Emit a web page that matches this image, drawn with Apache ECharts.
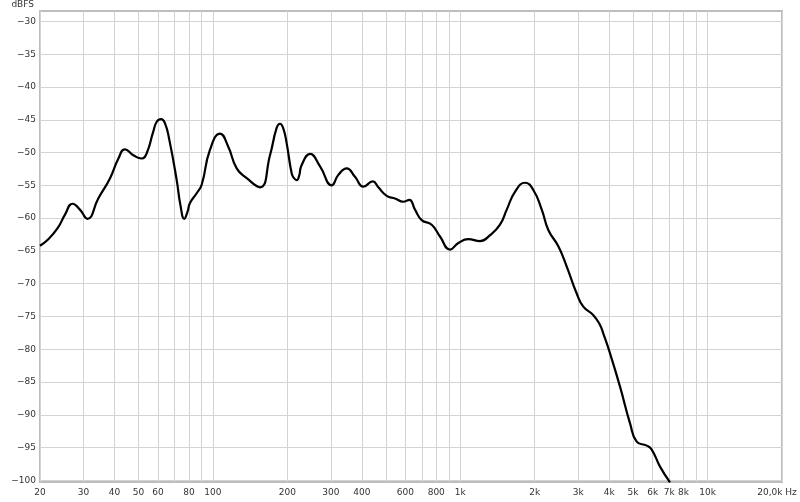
<!DOCTYPE html>
<html><head><meta charset="utf-8">
<script src="https://cdn.jsdelivr.net/npm/echarts@6/dist/echarts.min.js"></script>
<style>html,body{margin:0;padding:0;background:#fff}#c{width:800px;height:502px}</style>
</head><body><div id="c"></div>
<script>
// Frequency response (Hz, dBFS)
const freqHz = [20, 21.5, 23.6, 25.2, 27.1, 29.0, 31.1, 34.4, 38.4, 41.5, 44.1, 47.7, 51.5, 54.0, 57.4, 59.3, 61.7, 64.0, 66.7, 71.4, 74.0, 76.6, 79.0, 80.8, 86.0, 90.1, 97.3, 106.9, 115.4, 124.8, 137.0, 155.1, 170.2, 181.2, 186.8, 192.6, 198.8, 208.3, 212.8, 218.3, 223, 228.6, 247.1, 271.2, 302.4, 321.5, 347.6, 375.5, 405.8, 442.9, 466.7, 504.6, 545, 588.7, 622.6, 656.5, 698.8, 766.8, 828.7, 909.6, 982.5, 1078, 1202, 1320, 1448, 1542, 1665, 1828, 1975, 2136, 2271, 2493, 2696, 2958, 3146, 3454, 3675, 3790, 4032, 4427, 4860, 5171, 5676, 5946, 6424, 7050];
const levelDb = [-64.2, -63.3, -61.5, -59.5, -57.8, -58.7, -60.1, -57.0, -53.9, -50.9, -49.5, -50.4, -50.9, -50.1, -46.8, -45.3, -44.9, -45.5, -48.1, -54.2, -58.1, -60.1, -59.0, -57.7, -56.2, -54.9, -49.6, -47.1, -49.1, -52.4, -53.9, -55.3, -50.4, -46.2, -45.6, -46.3, -48.6, -53.2, -53.9, -54.2, -53.6, -51.9, -50.2, -52.1, -55.0, -53.4, -52.4, -53.7, -55.2, -54.4, -55.3, -56.6, -57.0, -57.5, -57.2, -58.7, -60.3, -61.0, -62.8, -64.8, -63.8, -63.2, -63.5, -62.6, -61.0, -58.7, -56.0, -54.6, -55.7, -58.7, -61.8, -64.3, -67.4, -71.5, -73.5, -74.8, -76.3, -77.6, -80.6, -85.7, -91.3, -94.1, -94.7, -95.3, -97.9, -100.3];

// Axis ticks
const xGridValues = [20, 30, 40, 50, 60, 70, 80, 90, 100, 200, 300, 400, 500, 600, 700, 800, 900, 1000, 2000, 3000, 4000, 5000, 6000, 7000, 8000, 9000, 10000, 20000];
const xLabelValues = [20, 30, 40, 50, 60, 80, 100, 200, 300, 400, 600, 800, 1000, 2000, 3000, 4000, 5000, 6000, 7000, 8000, 10000, 20000];
const yTickValues = [-100, -95, -90, -85, -80, -75, -70, -65, -60, -55, -50, -45, -40, -35, -30];
const yAxisTitle = 'dBFS';

const FONT = 'DejaVu Sans';
const chart = echarts.init(document.getElementById('c'), null, {renderer: 'canvas'});

function fmtX(v) {
  const r = Math.round(v);
  if (r >= 20000) return '{e|20,0k Hz}';
  if (r >= 1000) return (r / 1000) + 'k';
  return String(r);
}

chart.setOption({
  animation: false,
  backgroundColor: '#fff',
  grid: {left: 40, right: 18, top: 11, bottom: 20, show: true, borderColor: '#bdbdbd', borderWidth: 2, backgroundColor: '#fff'},
  xAxis: {
    type: 'log', logBase: 10, min: 20, max: 20000,
    axisLine: {show: false},
    axisTick: {show: false, customValues: xGridValues},
    splitLine: {show: true, lineStyle: {color: '#d3d3d3', width: 1}},
    axisLabel: {
      customValues: xLabelValues, margin: 6, color: '#333', fontFamily: FONT, fontSize: 9,
      formatter: fmtX,
      rich: {e: {fontFamily: FONT, fontSize: 9, color: '#333', padding: [0, 10, 0, 0]}}
    }
  },
  yAxis: {
    type: 'value', min: -100.25, max: -28.4,
    name: yAxisTitle, nameLocation: 'end', nameGap: 2,
    nameTextStyle: {color: '#333', fontFamily: FONT, fontSize: 9, align: 'right', verticalAlign: 'bottom', padding: [0, 6, 0, 0]},
    axisLine: {show: false},
    axisTick: {show: false, customValues: yTickValues},
    splitLine: {show: true, lineStyle: {color: '#d3d3d3', width: 1}},
    axisLabel: {customValues: yTickValues, margin: 4, color: '#333', fontFamily: FONT, fontSize: 9,
      formatter: v => String(Math.round(v)).replace('-', '\u2212')}
  },
  series: [{
    type: 'line',
    data: freqHz.map((f, i) => [f, levelDb[i]]),
    showSymbol: false, smooth: 0.5, clip: false,
    lineStyle: {color: '#000', width: 2.2},
    silent: true
  }]
});
</script>
</body></html>
